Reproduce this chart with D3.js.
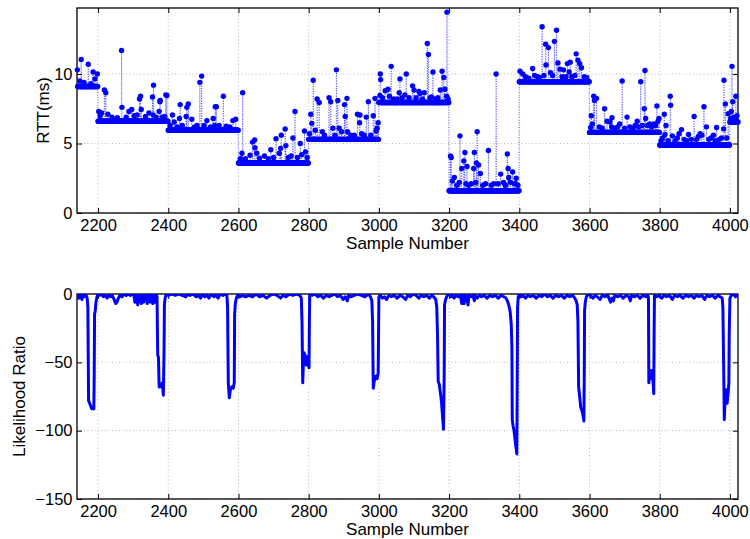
<!DOCTYPE html>
<html>
<head>
<meta charset="utf-8">
<script src="https://cdn.jsdelivr.net/npm/d3@7"></script>
<style>
  body { margin: 0; background: #fff; }
  text { font-family: "Liberation Sans", Arial, Helvetica, sans-serif; }
</style>
</head>
<body>
<div id="chart"></div>
<script>
// ---- data ----
var firstSample = 2141;
var lastSample = 4023;

// RTT baseline level for each 200-sample block
var segStarts = [2141, 2200, 2400, 2600, 2800, 3000, 3200, 3400, 3600, 3800, 4000];
var segLevels = [9.1, 6.6, 5.95, 3.6, 5.3, 7.95, 1.6, 9.45, 5.8, 4.9, 6.55];

// samples that sit above the baseline [sample, rtt]
var rttPeaks = [
  [2141,10.3],[2148,9.5],[2152,11.05],[2160,9.4],[2172,10.7],[2180,9.3],[2186,10.15],[2191,9.65],[2198,10.0],
  [2202,7.3],[2206,7.0],[2210,7.2],[2218,8.85],[2222,8.65],[2228,7.1],[2240,6.9],[2255,6.85],[2267,11.7],[2268,7.6],
  [2280,6.9],[2288,7.3],[2296,7.45],[2303,7.0],[2311,7.05],[2318,8.2],[2321,8.4],[2323,7.45],[2335,6.95],[2345,7.2],
  [2355,8.35],[2357,7.05],[2358,9.2],[2365,6.9],[2374,7.3],[2376,8.0],[2377,8.1],[2383,6.9],[2390,6.95],[2393,8.5],[2396,8.45],
  [2405,6.3],[2412,7.05],[2417,6.55],[2425,6.2],[2432,6.8],[2434,7.8],[2440,6.3],[2451,6.95],[2453,7.6],[2457,7.85],
  [2467,6.75],[2475,6.2],[2482,6.3],[2490,9.4],[2495,9.85],[2502,6.3],[2510,6.65],[2520,6.2],[2528,6.8],[2532,6.3],
  [2534,7.65],[2537,7.65],[2545,6.3],[2557,8.4],[2565,6.25],[2575,6.2],[2584,6.65],[2592,6.75],
  [2605,3.9],[2610,4.3],[2612,8.65],[2620,3.9],[2633,4.15],[2640,5.1],[2646,5.25],[2647,4.7],[2652,4.3],[2660,3.95],
  [2674,4.1],[2685,3.9],[2692,4.55],[2700,4.0],[2707,5.35],[2716,4.3],[2720,4.65],[2722,5.6],[2733,6.05],[2735,4.85],
  [2742,4.0],[2750,4.1],[2755,5.4],[2761,7.3],[2768,4.0],[2776,5.0],[2780,4.2],[2788,5.9],[2791,4.4],[2796,4.0],
  [2802,5.7],[2806,7.1],[2809,6.45],[2813,9.55],[2819,5.95],[2824,8.2],[2830,7.95],[2839,5.85],[2845,5.6],[2858,8.3],
  [2863,8.0],[2869,6.1],[2875,5.6],[2879,10.3],[2883,8.1],[2887,6.1],[2894,5.85],[2902,7.8],[2904,6.95],[2909,8.25],
  [2911,5.85],[2920,5.6],[2930,5.6],[2939,7.1],[2945,6.5],[2946,7.05],[2951,5.7],[2958,5.6],[2964,6.9],[2970,8.0],
  [2977,5.6],[2984,7.0],[2989,8.25],[2992,5.9],[2995,6.1],[2998,6.5],
  [3003,8.45],[3004,10.0],[3005,9.6],[3010,8.3],[3018,8.8],[3026,8.9],[3030,8.4],[3035,10.55],[3042,8.2],[3052,8.2],
  [3058,8.65],[3060,9.65],[3066,8.3],[3074,8.5],[3078,10.0],[3086,8.3],[3096,9.15],[3100,8.85],[3106,8.3],[3114,8.75],
  [3117,8.6],[3124,8.2],[3129,8.65],[3138,12.2],[3141,11.4],[3146,8.3],[3150,8.35],[3154,10.15],[3162,8.2],[3168,8.3],
  [3175,8.85],[3180,10.2],[3185,9.75],[3188,8.9],[3193,8.4],[3194,14.45],[3197,8.2],
  [3204,4.1],[3206,4.0],[3209,2.3],[3215,2.55],[3222,2.0],[3229,2.2],[3231,5.55],[3236,3.2],[3242,3.75],[3245,4.35],
  [3248,2.1],[3251,3.35],[3256,2.0],[3263,2.1],[3270,3.2],[3272,4.35],[3276,2.2],[3278,3.6],[3280,5.85],[3284,3.45],
  [3289,2.85],[3296,2.0],[3304,2.1],[3312,4.5],[3320,2.0],[3327,2.1],[3334,10.0],[3340,2.1],[3347,2.8],[3355,2.2],
  [3360,2.0],[3366,4.25],[3368,3.2],[3370,2.55],[3375,2.2],[3381,2.95],[3386,2.1],[3390,2.1],[3391,2.5],[3396,2.0],
  [3402,10.2],[3410,10.0],[3418,9.8],[3427,9.7],[3438,10.4],[3444,9.9],[3452,9.8],[3458,9.75],[3465,13.4],[3470,9.9],
  [3475,12.15],[3476,10.65],[3483,11.9],[3489,10.1],[3495,9.9],[3500,12.35],[3506,13.15],[3510,10.8],[3516,10.35],
  [3522,9.8],[3526,10.3],[3533,9.8],[3537,10.75],[3542,10.15],[3545,10.85],[3550,9.8],[3558,9.9],[3562,11.45],
  [3567,11.0],[3572,10.75],[3577,10.45],[3585,9.8],[3592,9.75],
  [3603,6.15],[3605,7.0],[3608,6.4],[3612,8.4],[3614,8.1],[3620,8.25],[3628,6.2],[3636,6.1],[3643,7.5],[3650,6.6],
  [3658,6.55],[3663,6.2],[3664,6.85],[3672,6.1],[3680,6.2],[3686,6.4],[3693,9.5],[3700,6.1],[3707,6.9],[3715,6.2],
  [3724,6.1],[3730,6.3],[3736,6.6],[3740,6.2],[3746,9.45],[3750,6.3],[3756,7.5],[3758,10.25],[3760,6.8],[3766,6.3],
  [3771,6.4],[3777,6.2],[3783,6.4],[3788,6.3],[3792,7.7],[3795,6.6],[3798,6.8],
  [3804,5.2],[3808,5.4],[3813,7.1],[3815,5.65],[3818,6.3],[3824,5.2],[3830,8.4],[3831,7.75],[3836,5.55],[3844,5.2],
  [3850,5.4],[3855,5.7],[3862,6.0],[3870,5.3],[3876,5.2],[3882,5.65],[3890,5.3],[3898,6.95],[3905,5.3],[3910,5.5],
  [3915,5.7],[3920,5.6],[3926,7.65],[3933,6.2],[3940,5.3],[3946,5.4],[3953,5.6],[3958,5.2],[3962,6.15],[3970,5.3],
  [3976,5.4],[3982,6.05],[3983,9.55],[3987,7.85],[3991,5.4],[3995,7.15],
  [4002,6.8],[4004,7.3],[4006,10.55],[4008,8.0],[4012,6.9],[4015,6.85],[4017,8.4],[4020,7.0]
];

// likelihood ratio trace [sample, value]
var lrPoints = [
  [2141,-4],[2143,-1],[2146,-3],[2148,0],[2151,-1],[2154,-4],[2156,-1],[2160,-2],[2163,0],[2166,-1],[2169,-3],
  [2171,-10],[2172,-45],[2173,-78],[2176,-80],[2179,-82],[2182,-84],[2185,-83],[2188,-84],[2189,-60],[2190,-15],
  [2192,-12],[2194,-6],[2197,-2],[2200,0],
  [2205,-1],[2210,0],[2215,-2],[2220,-1],[2226,-3],[2230,-1],[2236,-2],[2240,-1],[2246,-4],[2250,-7],[2254,-6],
  [2258,-3],[2262,-1],[2268,-2],[2274,0],[2280,-1],[2286,0],[2292,-1],[2298,0],[2302,-1],[2305,-6],[2307,-1],
  [2310,-2],[2313,-8],[2315,-1],[2320,-2],[2323,-7],[2325,-1],[2330,-6],[2332,-1],[2337,-2],[2340,-7],[2342,0],
  [2348,-6],[2350,0],[2356,-7],[2358,0],[2363,-6],[2365,0],
  [2368,-2],[2370,-45],[2372,-46],[2374,-68],[2377,-66],[2380,-68],[2383,-65],[2386,-74],[2388,-40],[2389,-8],
  [2391,-3],[2394,0],
  [2400,-1],[2410,0],[2420,-1],[2430,0],[2440,-1],[2450,-2],[2456,0],[2462,-1],[2470,0],[2480,-2],[2486,-1],
  [2492,-3],[2497,0],[2504,-2],[2510,-1],[2516,-3],[2522,0],[2530,-2],[2536,-1],[2542,-3],[2548,0],[2556,-1],[2562,0],
  [2567,-1],[2569,-10],[2571,-65],[2574,-76],[2577,-70],[2581,-68],[2585,-69],[2588,-65],[2589,-15],[2591,-7],
  [2594,-3],[2599,0],
  [2605,-2],[2610,-1],[2620,-2],[2630,-1],[2640,-2],[2650,0],[2660,-2],[2670,-1],[2680,-3],[2690,-1],[2700,0],
  [2710,-1],[2720,-3],[2726,-1],[2735,-2],[2745,0],[2755,-1],[2765,0],[2775,-1],[2779,-3],
  [2781,-20],[2783,-65],[2785,-50],[2787,-43],[2790,-45],[2793,-52],[2796,-46],[2799,-50],[2801,-54],[2802,-20],[2803,-1],
  [2810,-1],[2818,0],[2826,-2],[2834,-1],[2842,-3],[2850,-1],[2858,-2],[2866,-1],[2874,0],[2882,-2],[2890,-1],
  [2898,-4],[2904,-2],[2910,-5],[2914,-1],[2920,-2],[2930,-1],[2940,0],[2950,-1],[2960,-2],[2970,0],[2976,-2],[2980,-5],
  [2982,-20],[2984,-69],[2986,-65],[2989,-61],[2992,-60],[2995,-62],[2998,-58],[2999,-30],[3000,-2],
  [3004,-1],[3010,-3],[3016,-2],[3022,-4],[3028,-1],[3036,-2],[3044,-1],[3052,-3],[3060,-1],[3068,-2],[3076,-4],
  [3082,-1],[3090,-2],[3098,0],[3106,-1],[3114,-3],[3120,-1],[3128,-2],[3136,-1],[3144,-3],[3150,-1],[3156,-2],[3162,-4],
  [3165,-10],[3167,-30],[3169,-64],[3172,-66],[3175,-72],[3178,-78],[3181,-88],[3184,-99],[3186,-60],[3187,-8],
  [3190,-4],[3195,-1],
  [3200,0],[3205,-2],[3210,-1],[3214,-3],[3220,-1],[3226,-2],[3232,-1],[3236,-7],[3238,-1],[3243,-7],[3245,-1],
  [3250,-2],[3254,-8],[3256,-1],[3262,-2],[3268,-1],[3272,-5],[3274,-1],[3280,-3],[3286,-1],[3292,-2],[3300,-1],
  [3308,-3],[3316,-1],[3324,-2],[3332,-1],[3340,-3],[3348,-1],[3356,-2],[3362,-3],[3366,-5],[3370,-8],[3374,-13],
  [3377,-22],[3379,-40],
  [3380,-92],[3382,-96],[3385,-100],[3388,-107],[3391,-113],[3393,-117],[3394,-70],[3395,-10],[3397,-2],[3400,0],
  [3405,-2],[3410,-1],[3418,-3],[3424,-1],[3432,-2],[3440,-1],[3448,-3],[3456,-1],[3464,-2],[3472,0],[3480,-2],
  [3488,-1],[3496,-3],[3504,-1],[3512,-2],[3520,-1],[3528,-3],[3536,-1],[3544,-2],[3552,-1],[3558,-3],[3562,-5],[3565,-8],
  [3567,-20],[3569,-68],[3572,-75],[3575,-83],[3578,-85],[3581,-88],[3584,-93],[3585,-60],[3586,-12],[3588,-6],
  [3591,-2],[3596,0],
  [3602,-1],[3610,-3],[3616,-1],[3622,-2],[3630,-4],[3636,-1],[3644,-2],[3652,-1],[3660,-6],[3664,-3],[3668,-5],
  [3672,-1],[3680,-2],[3688,-1],[3696,-3],[3704,-1],[3712,-2],[3716,-5],[3720,-1],[3728,-2],[3736,-1],[3744,-3],
  [3752,-1],[3760,-2],[3766,-1],
  [3768,-3],[3769,-65],[3771,-58],[3774,-62],[3777,-56],[3780,-60],[3783,-73],[3784,-30],[3785,-1],
  [3792,-2],[3798,-1],[3806,-3],[3812,-1],[3820,-2],[3828,-1],[3836,-4],[3842,-1],[3850,-2],[3858,-1],[3866,-3],
  [3874,-1],[3882,-2],[3890,-1],[3898,-3],[3904,-1],[3912,-2],[3920,-1],[3928,-4],[3934,-1],[3942,-2],[3950,-1],
  [3958,-3],[3966,-1],[3972,-2],[3978,-3],
  [3980,-10],[3982,-50],[3984,-92],[3986,-78],[3989,-70],[3992,-80],[3995,-72],[3997,-65],[3998,-30],[4000,-3],
  [4004,-1],[4010,0],[4016,-2],[4023,0]
];

var xTicks = [2200, 2400, 2600, 2800, 3000, 3200, 3400, 3600, 3800, 4000];
var rttTicks = [0, 5, 10];
var lrTicks = [-150, -100, -50, 0];

// ---- build the RTT series ----
var peakMap = new Map(rttPeaks);
var rtt = [];
for (var n = firstSample; n <= lastSample; n++) {
  var k = Math.max(d3.bisectRight(segStarts, n) - 1, 0);
  rtt.push({n: n, v: peakMap.has(n) ? peakMap.get(n) : segLevels[k]});
}

// ---- canvas ----
var svgWidth = 750, svgHeight = 539;
var svg = d3.select("#chart").append("svg")
  .attr("width", svgWidth)
  .attr("height", svgHeight);

var left = 77, right = 738;
var width = right - left;

var x = d3.scaleLinear().domain([2140, 4023]).range([0, width]);

function drawFrame(g, y, yTicks, h, yLabel, yLabelX) {
  // grid
  g.append("g").selectAll("line").data(xTicks).enter().append("line")
    .attr("x1", d => x(d)).attr("x2", d => x(d))
    .attr("y1", 0).attr("y2", h)
    .attr("stroke", "#a8a8a8").attr("stroke-width", 0.8)
    .attr("stroke-dasharray", "1,2.5");
  g.append("g").selectAll("line").data(yTicks).enter().append("line")
    .attr("x1", 0).attr("x2", width)
    .attr("y1", d => y(d)).attr("y2", d => y(d))
    .attr("stroke", "#a8a8a8").attr("stroke-width", 0.8)
    .attr("stroke-dasharray", "1,2.5");

  // axes with inward ticks
  var bottom = g.append("g").attr("transform", `translate(0,${h})`)
    .call(d3.axisBottom(x).tickValues(xTicks).tickSize(-5).tickPadding(6).tickFormat(d3.format("d")));
  var top = g.append("g")
    .call(d3.axisTop(x).tickValues(xTicks).tickSize(-5).tickFormat(""));
  var leftAx = g.append("g")
    .call(d3.axisLeft(y).tickValues(yTicks).tickSize(-5).tickPadding(4.5));
  var rightAx = g.append("g").attr("transform", `translate(${width},0)`)
    .call(d3.axisRight(y).tickValues(yTicks).tickSize(-5).tickFormat(""));
  [bottom, top, leftAx, rightAx].forEach(a => {
    a.select(".domain").remove();
    a.selectAll("line").attr("stroke", "#000").attr("stroke-width", 1);
    a.selectAll("text").attr("font-size", 16.5).attr("fill", "#000")
      .style("font-family", "'Liberation Sans', Arial, sans-serif");
  });

  g.append("rect").attr("width", width).attr("height", h)
    .attr("fill", "none").attr("stroke", "#000").attr("stroke-width", 1.3);

  g.append("text")
    .attr("x", width / 2).attr("y", h + 36)
    .attr("text-anchor", "middle").attr("font-size", 17)
    .text("Sample Number");

  g.append("text")
    .attr("transform", `translate(${yLabelX - left},${h / 2})rotate(-90)`)
    .attr("text-anchor", "middle").attr("font-size", 17)
    .text(yLabel);
}

// ---- top: RTT ----
var h1 = 205;
var g1 = svg.append("g").attr("transform", `translate(${left},8)`);
var y1 = d3.scaleLinear().domain([0, 14.75]).range([h1, 0]);
drawFrame(g1, y1, rttTicks, h1, "RTT(ms)", 49);

g1.append("path").datum(rtt)
  .attr("fill", "none")
  .attr("stroke", "#0000ff").attr("stroke-width", 0.8)
  .attr("stroke-opacity", 0.7)
  .attr("stroke-dasharray", "1,1.5")
  .attr("d", d3.line().x(d => x(d.n)).y(d => y1(d.v)));

g1.append("g").selectAll("circle").data(rtt).enter().append("circle")
  .attr("cx", d => x(d.n))
  .attr("cy", d => y1(d.v))
  .attr("r", 2.7)
  .attr("fill", "#0000ff");

// ---- bottom: likelihood ratio ----
var h2 = 205;
var g2 = svg.append("g").attr("transform", `translate(${left},294)`);
var y2 = d3.scaleLinear().domain([-150, 0]).range([h2, 0]);
drawFrame(g2, y2, lrTicks, h2, "Likelihood Ratio", 25);

g2.append("clipPath").attr("id", "clip2")
  .append("rect").attr("width", width).attr("height", h2);

g2.append("path").datum(lrPoints)
  .attr("clip-path", "url(#clip2)")
  .attr("fill", "none")
  .attr("stroke", "#0000ff").attr("stroke-width", 3)
  .attr("stroke-linejoin", "round")
  .attr("d", d3.line().x(d => x(d[0])).y(d => y2(d[1])));
</script>
</body>
</html>
